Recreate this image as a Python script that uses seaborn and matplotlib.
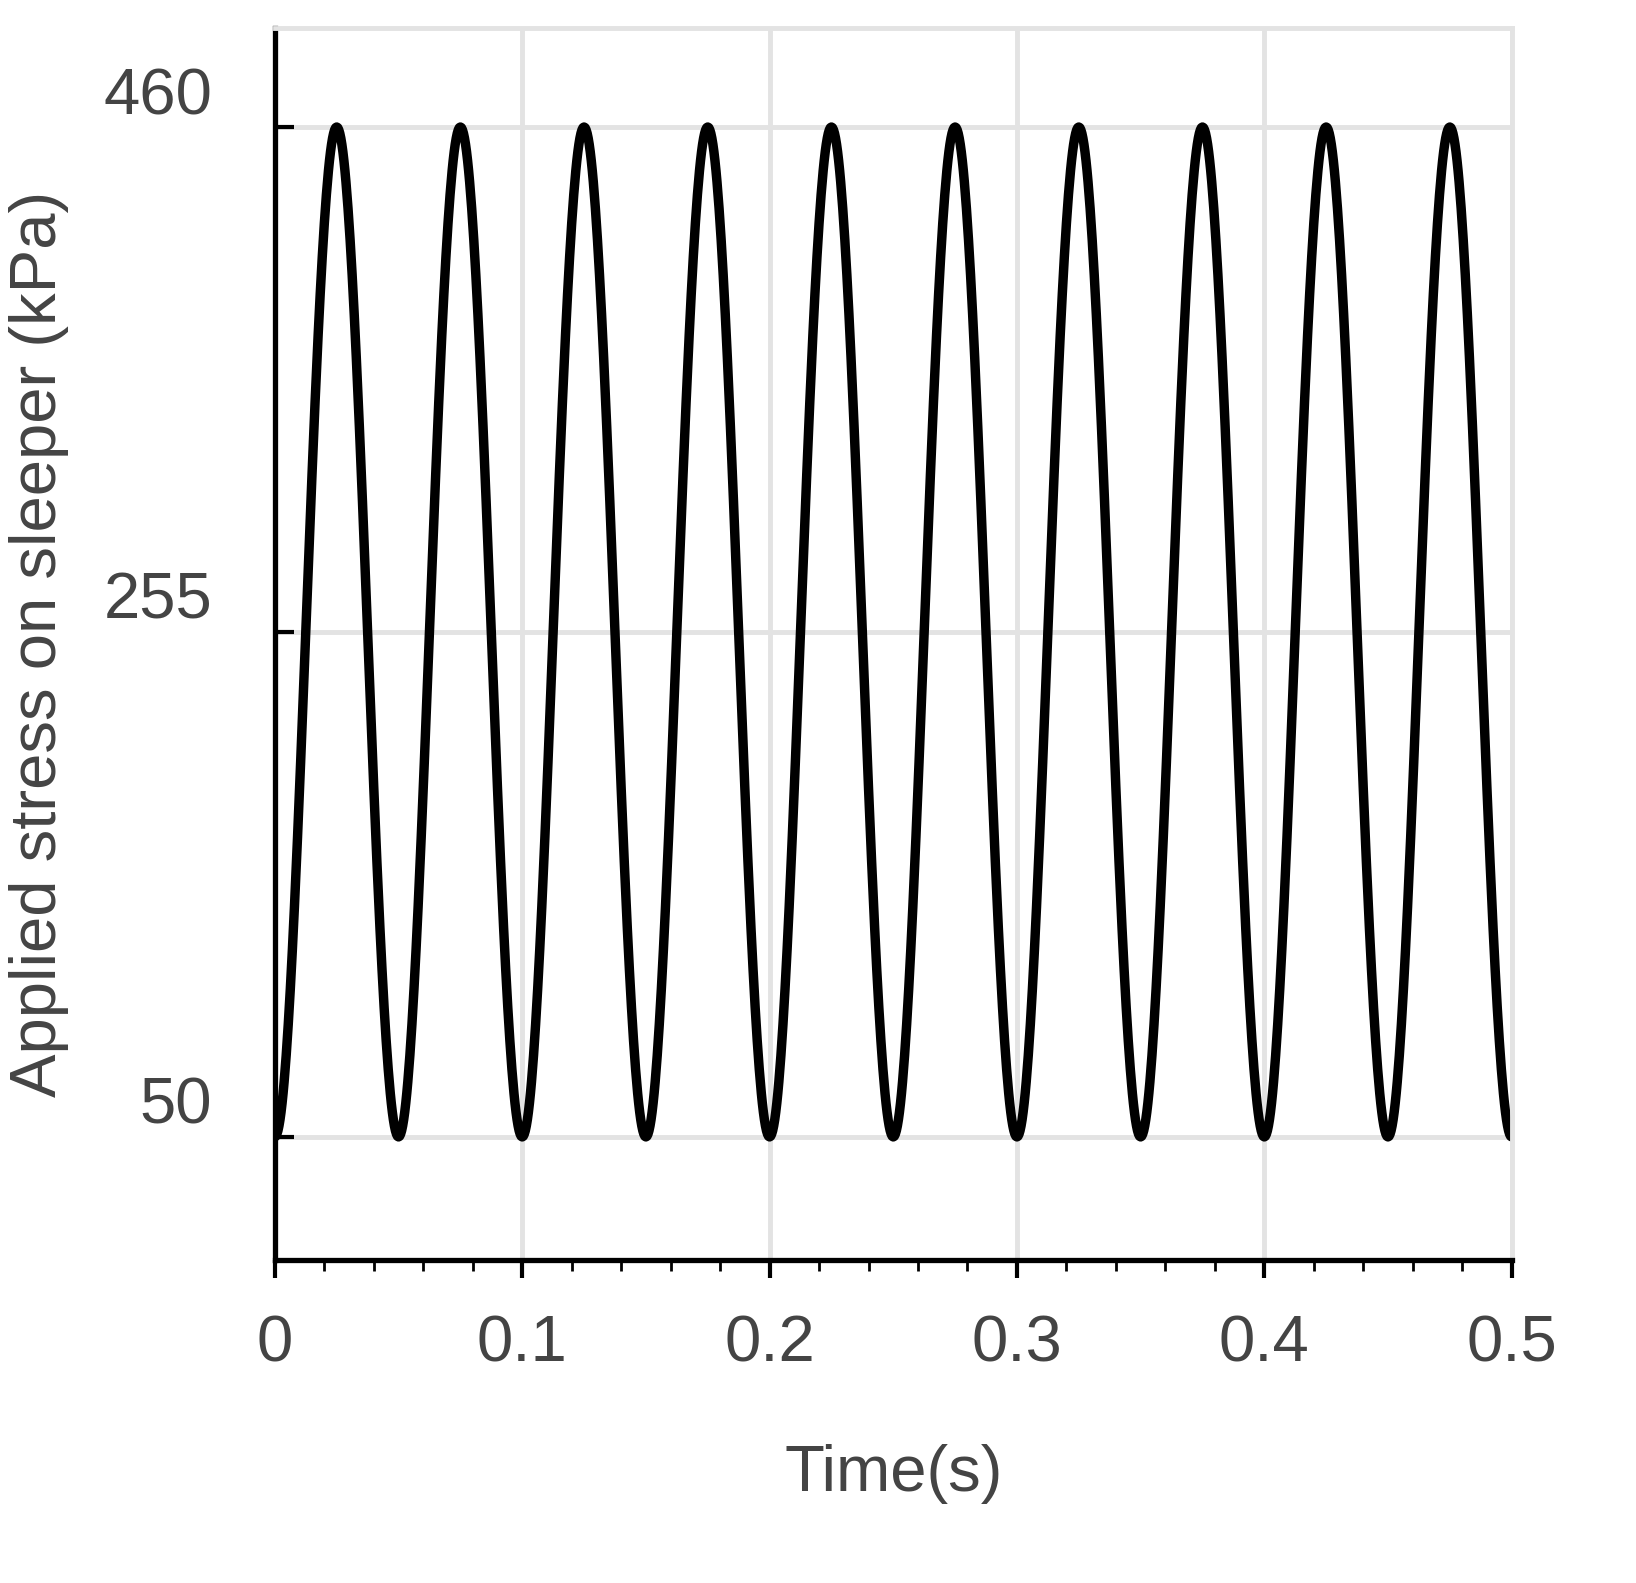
import numpy as np
import pandas as pd
import matplotlib
matplotlib.use("Agg")
import matplotlib.pyplot as plt
import seaborn as sns

# Extremes of the applied stress signal (troughs and peaks)
extreme_times = [0.0, 0.025, 0.05, 0.075, 0.1, 0.125, 0.15, 0.175, 0.2, 0.225,
                 0.25, 0.275, 0.3, 0.325, 0.35, 0.375, 0.4, 0.425, 0.45, 0.475, 0.5]
extreme_values = [50, 460, 50, 460, 50, 460, 50, 460, 50, 460,
                  50, 460, 50, 460, 50, 460, 50, 460, 50, 460, 50]
x_ticks = [0, 0.1, 0.2, 0.3, 0.4, 0.5]
x_tick_labels = ["0", "0.1", "0.2", "0.3", "0.4", "0.5"]
y_ticks = [50, 255, 460]

# Smooth (half-cosine) transitions between consecutive extremes
ts, vs = [], []
for i in range(len(extreme_times) - 1):
    t0, t1 = extreme_times[i], extreme_times[i + 1]
    v0, v1 = extreme_values[i], extreme_values[i + 1]
    s = np.linspace(0, 1, 60, endpoint=False)
    ts.extend(t0 + (t1 - t0) * s)
    vs.extend(v0 + (v1 - v0) * (1 - np.cos(np.pi * s)) / 2)
ts.append(extreme_times[-1]); vs.append(extreme_values[-1])
df = pd.DataFrame({"t": ts, "v": vs})

sns.set_theme(style="white")
plt.rcParams["font.family"] = ["Liberation Sans", "DejaVu Sans"]
fig = plt.figure(figsize=(16.36, 15.83), dpi=100)
ax = fig.add_axes([0.168, 0.204, 0.756, 0.778])
sns.lineplot(data=df, x="t", y="v", ax=ax, color="black", linewidth=6.8, sort=False)

ax.set_xlim(0, 0.5)
ax.set_ylim(0, 500)
ax.set_xticks(x_ticks)
ax.set_xticklabels(x_tick_labels)
ax.set_xticks(np.arange(0, 0.5001, 0.02), minor=True)
ax.set_yticks(y_ticks)
ax.grid(True, which="major", color="#e3e3e3", linewidth=3.5)
ax.set_axisbelow(True)
for s in ["top", "right"]:
    ax.spines[s].set_color("#e3e3e3")
    ax.spines[s].set_linewidth(3.5)
for s in ["left", "bottom"]:
    ax.spines[s].set_color("black")
    ax.spines[s].set_linewidth(3.8)
ax.tick_params(axis="x", which="major", direction="out", length=13, width=3,
               color="black", labelsize=47, labelcolor="#444444", pad=26, bottom=True)
ax.tick_params(axis="x", which="minor", direction="out", length=8, width=2,
               color="black", bottom=True)
ax.tick_params(axis="y", which="major", direction="in", length=14, width=3,
               color="black", labelsize=47, labelcolor="#444444", pad=45, left=True)
for lbl in ax.get_yticklabels():
    lbl.set_verticalalignment("bottom")
ax.set_xlabel("Time(s)", fontsize=47, color="#444444", labelpad=50)
ax.set_ylabel("Applied stress on sleeper (kPa)", fontsize=47, color="#444444", labelpad=25)
fig.savefig("out.png", dpi=100)
